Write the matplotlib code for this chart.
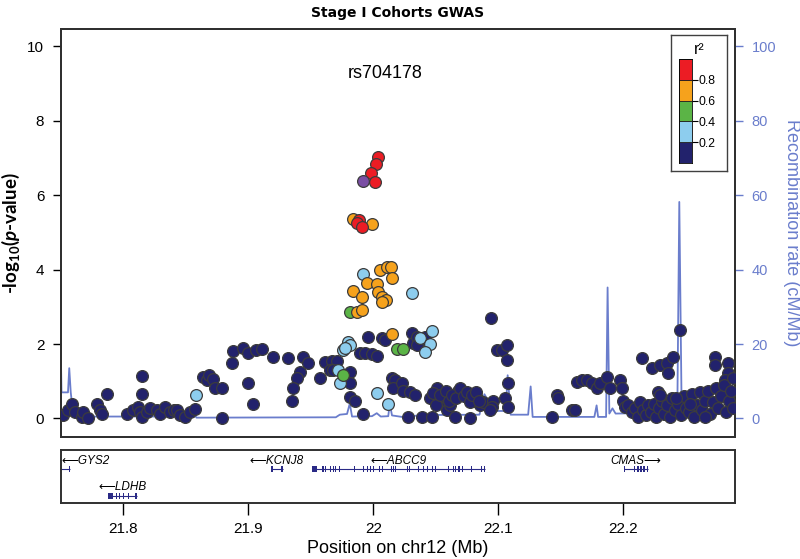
import numpy as np
import matplotlib
matplotlib.use("Agg")
import matplotlib.pyplot as plt

plt.rcParams['font.family'] = ['Liberation Sans', 'DejaVu Sans']
plt.rcParams['mathtext.fontset'] = 'custom'
plt.rcParams['mathtext.rm'] = 'Lato:bold'
plt.rcParams['mathtext.it'] = 'Lato:bold:italic'
plt.rcParams['mathtext.bf'] = 'Lato:bold'

# ---- SNP data (position Mb, -log10 p) by r2 bin ----
navy_pos = np.array([
    21.7516, 21.7556, 21.7588, 21.7612, 21.7668, 21.7676, 21.7716, 21.7788, 21.7812, 21.7828,
    21.7868, 21.8028, 21.8076, 21.8116, 21.8132, 21.8148, 21.8148, 21.8148, 21.8188, 21.8212,
    21.8268, 21.8292, 21.8332, 21.8372, 21.8404, 21.8428, 21.8452, 21.8492, 21.8532, 21.8572,
    21.8636, 21.8668, 21.8684, 21.8716, 21.8732, 21.8788, 21.8788, 21.8868, 21.8876, 21.8956,
    21.8996, 21.9060, 21.8996, 21.9036, 21.9108, 21.9196, 21.9316, 21.9436, 21.9476, 21.9412,
    21.9388, 21.9356, 21.9348, 21.9572, 21.9612, 21.9668, 21.9708, 21.9652, 21.9676, 21.9812,
    21.9812, 21.9812, 21.9852, 21.9916, 21.9892, 21.9932, 21.9988, 22.0028, 21.9956, 22.0068,
    22.0092, 22.0148, 22.0172, 22.0156, 22.0228, 22.0236, 22.0308, 22.0320, 22.0348, 22.0348,
    22.0412, 22.0292, 22.0332, 22.0276, 22.0388, 22.0468, 22.0508, 22.0492, 22.0548, 22.0556,
    22.0572, 22.0588, 22.0612, 22.0652, 22.0676, 22.0708, 22.0772, 22.0796, 22.0828, 22.0852,
    22.0876, 22.0452, 22.0476, 22.0500, 22.0532, 22.0580, 22.0604, 22.0628, 22.0660, 22.0692,
    22.0724, 22.0748, 22.0772, 22.0788, 22.0820, 22.0844, 22.0940, 22.0988, 22.1028, 22.1068,
    22.1068, 22.1076, 22.1052, 22.1076, 22.0956, 22.0948, 22.0932, 22.1428, 22.1468, 22.1476,
    22.1588, 22.1612, 22.1628, 22.1668, 22.1708, 22.1748, 22.1788, 22.1812, 22.1868, 22.1892,
    22.1972, 22.1988, 22.1996, 22.2012, 22.2148, 22.2228, 22.2292, 22.2348, 22.2396, 22.2356,
    22.2276, 22.2452, 22.2732, 22.2732, 22.2836, 22.2836, 22.2812,
    22.2036, 22.2068, 22.2092, 22.2116, 22.2132, 22.2156, 22.2180, 22.2196, 22.2220, 22.2244,
    22.2260, 22.2284, 22.2308, 22.2324, 22.2348, 22.2372, 22.2388, 22.2412, 22.2436, 22.2460,
    22.2484, 22.2500, 22.2524, 22.2548, 22.2564, 22.2588, 22.2612, 22.2628, 22.2652, 22.2676,
    22.2692, 22.2716, 22.2740, 22.2756, 22.2780, 22.2804, 22.2820, 22.2844, 22.2860, 22.2876,
    22.2876, 22.2652, 22.2532, 22.2420, 22.2292])
navy_logp = np.array([
    0.08, 0.22, 0.40, 0.16, 0.03, 0.16, 0.00, 0.40, 0.22, 0.13,
    0.65, 0.11, 0.22, 0.30, 0.16, 1.13, 0.65, 0.03, 0.16, 0.27,
    0.22, 0.13, 0.30, 0.16, 0.22, 0.22, 0.08, 0.05, 0.16, 0.24,
    1.10, 1.02, 1.18, 1.05, 0.81, 0.83, 0.00, 1.48, 1.80, 1.88,
    1.75, 1.83, 0.94, 0.40, 1.86, 1.64, 1.62, 1.64, 1.48, 1.24,
    1.08, 0.83, 0.48, 1.08, 1.51, 1.53, 1.53, 1.29, 1.29, 1.24,
    0.94, 0.57, 0.48, 0.13, 1.75, 1.75, 1.72, 1.67, 2.18, 2.15,
    2.10, 1.08, 1.02, 0.81, 0.94, 0.75, 2.29, 2.02, 2.18, 1.97,
    2.18, 0.70, 0.62, 0.03, 0.03, 0.03, 0.81, 0.48, 0.43, 0.40,
    0.57, 0.22, 0.35, 0.03, 0.75, 0.70, 0.00, 0.48, 0.54, 0.35,
    0.43, 0.54, 0.67, 0.35, 0.62, 0.75, 0.48, 0.62, 0.54, 0.81,
    0.59, 0.70, 0.43, 0.62, 0.70, 0.48, 2.69, 1.83, 1.83, 1.97,
    1.56, 0.94, 0.54, 0.30, 0.48, 0.30, 0.22, 0.05, 0.62, 0.54,
    0.22, 0.22, 0.97, 1.02, 1.02, 0.94, 0.83, 0.94, 1.10, 0.81,
    1.02, 0.81, 0.48, 0.30, 1.62, 1.35, 1.43, 1.48, 1.64, 1.21,
    0.70, 2.37, 1.64, 1.43, 1.48, 1.21, 1.02,
    0.35, 0.16, 0.27, 0.05, 0.43, 0.22, 0.08, 0.35, 0.16, 0.40,
    0.03, 0.27, 0.48, 0.13, 0.35, 0.05, 0.54, 0.22, 0.38, 0.08,
    0.59, 0.27, 0.16, 0.65, 0.03, 0.35, 0.70, 0.22, 0.48, 0.75,
    0.13, 0.43, 0.83, 0.27, 0.59, 0.89, 0.16, 0.48, 0.75, 1.08,
    0.27, 0.05, 0.40, 0.54, 0.62])

lblue_pos = [21.8580, 21.9916, 22.0308, 21.9756, 21.9796, 21.9812, 21.9772, 21.9716,
             21.9732, 22.0028, 22.0116, 22.0468, 22.0372, 22.0452, 22.0412]
lblue_logp = [0.62, 3.88, 3.36, 1.83, 2.05, 1.97, 1.88, 1.29,
              0.94, 0.67, 0.40, 2.34, 2.15, 1.99, 1.78]

green_pos = [21.9812, 21.9756, 22.0188, 22.0236]
green_logp = [2.85, 1.18, 1.86, 1.86]

orange_pos = [21.9836, 21.9988, 22.0052, 22.0108, 22.0140, 22.0148, 21.9948, 22.0028,
              21.9836, 21.9908, 22.0036, 22.0068, 22.0100, 22.0068, 21.9866, 21.9908, 22.0148]
orange_logp = [5.36, 5.22, 3.98, 4.06, 4.06, 3.77, 3.63, 3.61,
               3.42, 3.26, 3.39, 3.26, 3.18, 3.12, 2.85, 2.91, 2.26]

red_pos = [22.0036, 22.0020, 21.9980, 22.0012, 21.9884, 21.9868, 21.9908]
red_logp = [7.03, 6.84, 6.59, 6.35, 5.33, 5.25, 5.14]

index_snp = 'rs704178'
index_pos = [21.9916]
index_logp = [6.38]

# ---- recombination rate (cM/Mb) ----
recomb_pos = [21.7500, 21.7504, 21.7556, 21.7566, 21.7578, 21.7600, 21.8580, 21.8585,
              21.9700, 21.9732, 21.9790, 21.9812, 21.9830, 21.9990, 22.0028, 22.0060,
              22.0120, 22.0132, 22.0150, 22.0250, 22.0380, 22.0850, 22.0890, 22.0932,
              22.0960, 22.1060, 22.1076, 22.1100, 22.1240, 22.1260, 22.1276, 22.1770,
              22.1788, 22.1800, 22.1864, 22.1876, 22.1890, 22.1915, 22.1940, 22.2300,
              22.2435, 22.2450, 22.2468, 22.2600, 22.2900]
recomb_rate = [15.0, 7.0, 7.0, 13.5, 7.0, 0.5, 0.5, 0.2,
               0.3, 1.0, 1.2, 4.0, 0.5, 0.6, 1.4, 0.5,
               0.6, 4.0, 0.8, 0.3, 0.9, 1.0, 6.5, 4.0,
               2.0, 2.0, 11.6, 1.0, 1.0, 8.6, 0.4, 0.4,
               3.5, 0.4, 0.4, 35.2, 1.3, 2.7, 1.3, 1.5,
               4.8, 58.2, 4.8, 2.0, 2.0]

# ---- genes ----
gene_names = ['GYS2', 'LDHB', 'KCNJ8', 'ABCC9', 'CMAS']
gene_start = [21.7450, 21.7876, 21.9180, 21.9508, 22.2010]
gene_end = [21.7572, 21.8108, 21.9276, 22.0892, 22.2196]
gene_strand = [-1, -1, -1, -1, 1]
gene_row = [0, 1, 0, 0, 0]
gene_exons = [
    [(21.7564, 0.0008)],
    [(21.7876, 0.0040), (21.7940, 0.0008), (21.7964, 0.0008), (21.7996, 0.0008),
     (21.8036, 0.0008), (21.8092, 0.0008), (21.8100, 0.0008)],
    [(21.9180, 0.0015), (21.9262, 0.0014)],
    [(21.9508, 0.0040), (21.9588, 0.0015), (21.9612, 0.0008), (21.9652, 0.0008),
     (21.9676, 0.0008), (21.9692, 0.0008), (21.9724, 0.0008), (21.9844, 0.0008),
     (21.9916, 0.0008), (21.9948, 0.0008), (21.9972, 0.0008), (21.9996, 0.0008),
     (22.0044, 0.0008), (22.0068, 0.0008), (22.0140, 0.0008), (22.0156, 0.0008),
     (22.0172, 0.0008), (22.0268, 0.0008), (22.0284, 0.0008), (22.0356, 0.0008),
     (22.0396, 0.0008), (22.0428, 0.0008), (22.0468, 0.0008), (22.0492, 0.0008),
     (22.0596, 0.0012), (22.0636, 0.0008), (22.0652, 0.0008), (22.0676, 0.0015),
     (22.0708, 0.0008), (22.0780, 0.0008), (22.0860, 0.0008), (22.0884, 0.0008)],
    [(22.2010, 0.0006), (22.2084, 0.0012), (22.2108, 0.0016), (22.2132, 0.0016),
     (22.2160, 0.0012), (22.2188, 0.0008)],
]

r2_bins = [0.0, 0.2, 0.4, 0.6, 0.8, 1.0]
r2_labels = ['0.2', '0.4', '0.6', '0.8']
r2_colors = ['#22226c', '#8dcdee', '#5bb446', '#f6a21c', '#ec1c24']
index_color = '#7a4ea4'
recomb_color = '#6a7dcc'
gene_color = '#2a2a86'

xmin, xmax = 21.75, 22.2896
W, H = 800, 559

fig = plt.figure(figsize=(8.0, 5.59), dpi=100)
ax = fig.add_axes([61 / W, 1 - 437 / H, 674 / W, 408 / H])
ax2 = ax.twinx()
ax.set_zorder(ax2.get_zorder() + 1)
ax.patch.set_visible(False)

ax2.plot(recomb_pos, recomb_rate, color=recomb_color, lw=1.3)
ax2.set_ylim(-5, 104.7)
ax2.set_yticks([0, 20, 40, 60, 80, 100])
ax2.tick_params(axis='y', colors=recomb_color, labelsize=10.5, length=6, width=1, pad=6)
ax2.set_ylabel('Recombination rate (cM/Mb)', color=recomb_color, fontsize=13,
               rotation=270, labelpad=17)

dot = dict(s=72, edgecolors='#3c3c3c', linewidths=0.9, zorder=3)
ax.scatter(navy_pos, navy_logp, c=r2_colors[0], **dot)
ax.scatter(lblue_pos, lblue_logp, c=r2_colors[1], **dot)
ax.scatter(green_pos, green_logp, c=r2_colors[2], **dot)
ax.scatter(orange_pos, orange_logp, c=r2_colors[3], **dot)
ax.scatter(red_pos, red_logp, c=r2_colors[4], **dot)
ax.scatter(index_pos, index_logp, c=index_color, **dot)
ax.text(22.0092, 9.28, index_snp, ha='center', va='center', fontsize=13)

ax.set_xlim(xmin, xmax)
ax.set_ylim(-0.5, 10.47)
ax.set_yticks([0, 2, 4, 6, 8, 10])
ax.set_xticks([])
ax.tick_params(axis='y', labelsize=11, length=6, width=1, pad=6)
ax.set_ylabel(r'-log$_{\mathrm{10}}$($\mathit{p}$-value)', fontsize=13.5,
              family='Lato', fontweight='bold', labelpad=4)
for a in (ax, ax2):
    for sp in a.spines.values():
        sp.set_linewidth(1.4)
        sp.set_color('#303030')
ax.set_title('Stage I Cohorts GWAS', fontsize=10, fontweight='bold',
             family='DejaVu Sans', pad=9)

# gene panel
gax = fig.add_axes([61 / W, 1 - 503 / H, 674 / W, 53 / H])
gax.set_xlim(xmin, xmax)
gax.set_ylim(0, 1)
gax.set_yticks([])
gax.set_xticks([21.8, 21.9, 22.0, 22.1, 22.2])
gax.set_xticklabels(['21.8', '21.9', '22', '22.1', '22.2'])
gax.tick_params(axis='x', labelsize=11, length=8.5, width=1, pad=5)
for sp in gax.spines.values():
    sp.set_linewidth(1.4)
    sp.set_color('#303030')
gax.set_xlabel('Position on chr12 (Mb)', fontsize=13, labelpad=3)

row_line_y = [0.64, 0.13]
row_text_y = [0.80, 0.31]
for name, s, e, strand, row, exons in zip(gene_names, gene_start, gene_end,
                                         gene_strand, gene_row, gene_exons):
    y = row_line_y[row]
    gax.plot([s, e], [y, y], color=gene_color, lw=0.8, solid_capstyle='butt')
    for ex_s, ex_w in exons:
        gax.add_patch(plt.Rectangle((ex_s, y - 0.05), ex_w, 0.10, color=gene_color, lw=0))
    label = '\u27f5' + name if strand < 0 else name + '\u27f6'
    cx = (s + e) / 2
    if cx - 0.012 < xmin:
        gax.text(xmin + 0.0005, row_text_y[row], label, ha='left', va='center',
                 fontsize=8.5, style='italic')
    else:
        gax.text(cx, row_text_y[row], label, ha='center', va='center',
                 fontsize=8.5, style='italic')

# r2 legend
lax = fig.add_axes([671 / W, 1 - 171 / H, 56 / W, 136 / H])
lax.set_xticks([])
lax.set_yticks([])
lax.set_facecolor('white')
for sp in lax.spines.values():
    sp.set_linewidth(1.0)
    sp.set_color('#404040')
lax.text(0.5, 0.89, 'r\u00b2', ha='center', va='center', fontsize=11.5)

cax = fig.add_axes([679 / W, 1 - 163 / H, 13 / W, 104 / H])
cax.bar(0, np.diff(r2_bins), bottom=r2_bins[:-1], width=1, color=r2_colors,
        edgecolor='#202020', linewidth=0.6)
cax.set_xlim(-0.5, 0.5)
cax.set_ylim(0, 1)
cax.set_xticks([])
cax.yaxis.tick_right()
cax.set_yticks(r2_bins[1:-1])
cax.set_yticklabels(r2_labels)
cax.tick_params(axis='y', labelsize=8.8, length=4, width=0.8, pad=1)
for sp in cax.spines.values():
    sp.set_linewidth(0.6)

fig.savefig('out.png', dpi=100)
